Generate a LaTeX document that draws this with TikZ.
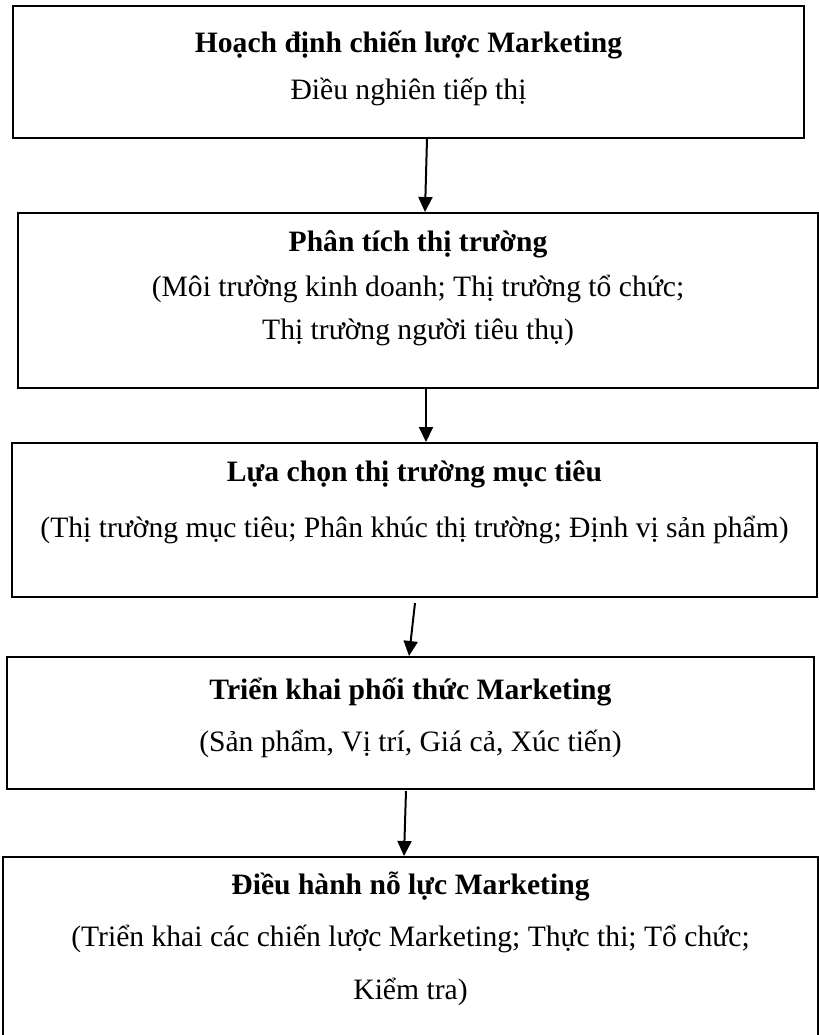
\documentclass[tikz,border=0pt]{standalone}
\usepackage{fontspec}
\setmainfont{Liberation Serif}
\usetikzlibrary{arrows.meta, calc}

\begin{document}
\begin{tikzpicture}[
        x=0.5pt, y=-0.5pt,
        box/.style={
            draw,
            rectangle,
            line width=1pt,
            inner sep=0pt
        },
        head/.style={anchor=base, inner sep=0pt, font=\fontsize{14.8}{18}\selectfont\bfseries},
        body/.style={anchor=base, inner sep=0pt, font=\fontsize{14.8}{18}\selectfont},
        arrow/.style={-{Triangle[length=7.5pt, width=7pt]}, line width=1pt}
    ]

        \useasboundingbox (0,0) rectangle (819,1035);
        \clip (0,0) rectangle (819,1035);

        % Các khung
        \node[box, minimum width=395.5pt, minimum height=66pt] (b1) at (408.5,72) {};
        \node[box, minimum width=400pt, minimum height=87.5pt] (b2) at (418,300.5) {};
        \node[box, minimum width=402.5pt, minimum height=77pt] (b3) at (414.5,520) {};
        \node[box, minimum width=403.5pt, minimum height=66pt] (b4) at (410.5,723) {};
        \node[box, minimum width=407.5pt, minimum height=90pt] (b5) at (410.5,947) {};

        % Nội dung
        \node[head] (b1head) at ($(b1.north)+(0,47)$) {Hoạch định chiến lược Marketing};
        \node[body] (b1body) at ($(b1.north)+(0,94)$) {Điều nghiên tiếp thị};

        \node[head] (b2head) at ($(b2.north)+(0,39)$) {Phân tích thị trường};
        \node[body] (b2body) at ($(b2.north)+(0,84)$) {(Môi trường kinh doanh; Thị trường tổ chức;};
        \node[body] (b2tail) at ($(b2.north)+(0,127)$) {Thị trường người tiêu thụ)};

        \node[head] (b3head) at ($(b3.north)+(0,39)$) {Lựa chọn thị trường mục tiêu};
        \node[body] (b3body) at ($(b3.north)+(0,95)$) {(Thị trường mục tiêu; Phân khúc thị trường; Định vị sản phẩm)};

        \node[head] (b4head) at ($(b4.north)+(0,43)$) {Triển khai phối thức Marketing};
        \node[body] (b4body) at ($(b4.north)+(0,95)$) {(Sản phẩm, Vị trí, Giá cả, Xúc tiến)};

        \node[head] (b5head) at ($(b5.north)+(0,38)$) {Điều hành nỗ lực Marketing};
        \node[body] (b5body) at ($(b5.north)+(0,90)$) {(Triển khai các chiến lược Marketing; Thực thi; Tổ chức;};
        \node[body] (b5tail) at ($(b5.north)+(0,143)$) {Kiểm tra)};

        % Mũi tên
        \draw[arrow] ($(b1.south)+(18.5,0)$) -- ($(b2.north)+(7,0)$);
        \draw[arrow] ($(b2.south)+(8,0)$) -- ($(b3.north)+(11.5,0)$);
        \draw[arrow] ($(b3.south)+(0.5,5)$) -- ($(b4.north)+(-1.5,0)$);
        \draw[arrow] ($(b4.south)+(-4.5,1)$) -- ($(b5.north)+(-6.5,0)$);

    \end{tikzpicture}
\end{document}
